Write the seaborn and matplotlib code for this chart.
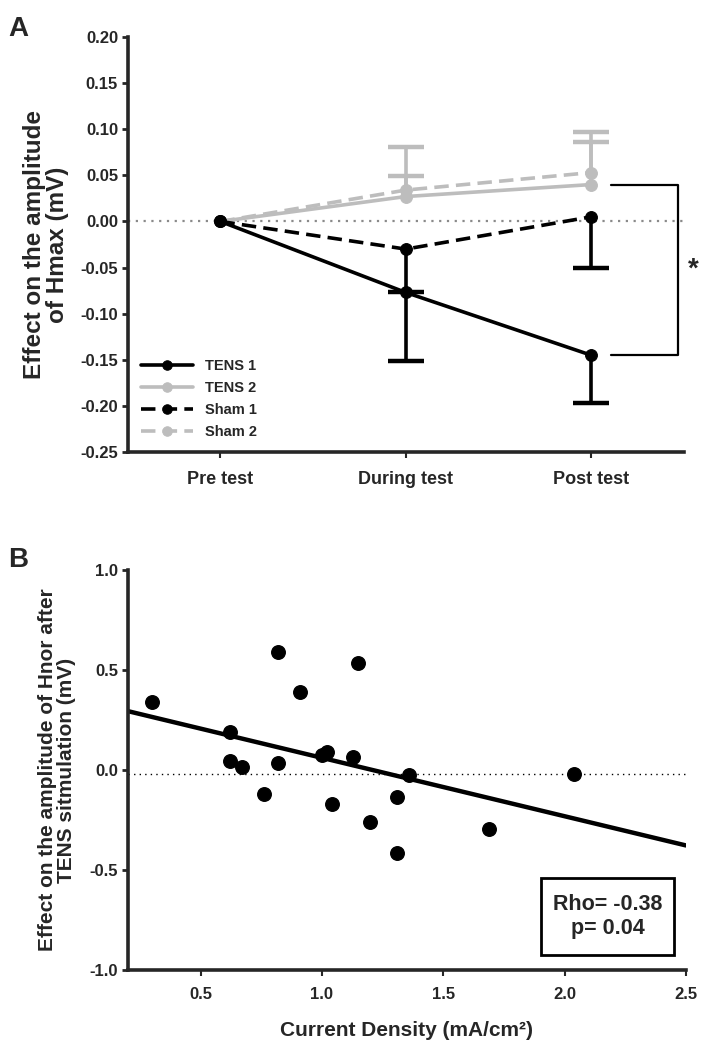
import numpy as np
import seaborn as sns
import matplotlib.pyplot as plt
from matplotlib.patches import Rectangle

# ---- panel A data ----
phases = ["Pre test", "During test", "Post test"]
tens1 = [0.0, -0.077, -0.145]
tens1_err_down = [0.0, 0.074, 0.052]
tens2 = [0.0, 0.027, 0.040]
tens2_err_up = [0.0, 0.022, 0.046]
sham1 = [0.0, -0.030, 0.005]
sham1_err_down = [0.0, 0.047, 0.055]
sham2 = [0.0, 0.034, 0.053]
sham2_err_up = [0.0, 0.047, 0.044]
a_ticks = [-0.25, -0.20, -0.15, -0.10, -0.05, 0.00, 0.05, 0.10, 0.15, 0.20]

# ---- panel B data ----
current_density = [0.30, 0.82, 1.15, 0.91, 0.62, 0.62, 0.67, 0.82, 0.76, 1.00,
                   1.02, 1.13, 1.36, 1.04, 1.31, 1.20, 1.31, 1.69, 2.04]
hnor_effect = [0.34, 0.59, 0.536, 0.389, 0.19, 0.045, 0.017, 0.033, -0.118, 0.076,
               0.089, 0.063, -0.023, -0.17, -0.134, -0.258, -0.416, -0.295, -0.02]
ref_level = -0.02
rho_text = "Rho= -0.38\np= 0.04"

sns.set_style("ticks")
plt.rcParams['font.family'] = ['Liberation Sans', 'DejaVu Sans']
plt.rcParams['font.weight'] = 'bold'
plt.rcParams['axes.unicode_minus'] = False

BLACK = "black"
GREY = "#bdbdbd"

fig = plt.figure(figsize=(7.02, 10.48), dpi=100)
axA = fig.add_axes([0.182, 0.5687, 0.792, 0.396])
axB = fig.add_axes([0.182, 0.0744, 0.795, 0.3817])

# ---------------- panel A ----------------
xpos = np.arange(len(phases))
axA.axhline(0, color="#8a8a8a", lw=1.6, ls=(0, (1, 2.5)), zorder=1)

series = [
    ("TENS 2", tens2, np.zeros(3), tens2_err_up, GREY, "-"),
    ("Sham 2", sham2, np.zeros(3), sham2_err_up, GREY, (0, (4, 2))),
    ("TENS 1", tens1, tens1_err_down, np.zeros(3), BLACK, "-"),
    ("Sham 1", sham1, sham1_err_down, np.zeros(3), BLACK, (0, (4, 2))),
]
for label, vals, lo, hi, col, ls in series:
    vals = np.asarray(vals)
    lo = np.asarray(lo)
    hi = np.asarray(hi)
    sns.lineplot(x=xpos, y=vals, ax=axA, color=col, lw=2.6, linestyle=ls,
                 marker="o", markersize=8.5, markeredgecolor=col, label=label, zorder=3)
    m = (lo + hi) > 0
    axA.errorbar(xpos[m], vals[m], yerr=[lo[m], hi[m]], fmt="none", ecolor=col,
                 elinewidth=2.6, capsize=0, zorder=2)
    ends = np.where(lo > 0, vals - lo, vals + hi)
    axA.plot(xpos[m], ends[m], ls="none", marker="_", ms=26, mew=3.2, color=col, zorder=2)

# significance bracket between TENS 2 and TENS 1 at post test
x0, x1 = 2.11, 2.47
axA.plot([x0, x1, x1, x0], [tens2[2], tens2[2], tens1[2], tens1[2]],
         color=BLACK, lw=1.6, clip_on=False)
axA.text(2.55, (tens2[2] + tens1[2]) / 2, "*", fontsize=20, fontweight="bold",
         ha="center", va="center", clip_on=False)

axA.set_xlim(-0.5, 2.5)
axA.set_ylim(-0.25, 0.20)
axA.set_yticks(a_ticks)
axA.set_yticklabels([f"{v:.2f}" for v in a_ticks])
axA.set_xticks(xpos)
axA.set_xticklabels(phases, fontsize=13, fontweight="bold")
axA.set_ylabel("Effect on the amplitude\nof Hmax (mV)", fontsize=17.5,
               fontweight="bold", labelpad=8, linespacing=1.0)
axA.set_xlabel("")

handles, labels = axA.get_legend_handles_labels()
order = [labels.index(n) for n in ["TENS 1", "TENS 2", "Sham 1", "Sham 2"]]
axA.legend([handles[i] for i in order], [labels[i] for i in order],
           loc="lower left", bbox_to_anchor=(0.0, 0.0), frameon=False,
           handlelength=3.6, labelspacing=0.55, markerscale=0.8,
           prop={"weight": "bold", "size": 10.5})

# ---------------- panel B ----------------
axB.set_xlim(0.2, 2.5)
axB.set_ylim(-1.0, 1.0)
axB.axhline(ref_level, color=BLACK, lw=1.0, ls=(0, (1, 3)), zorder=1)
sns.regplot(x=current_density, y=hnor_effect, ax=axB, ci=None, truncate=False,
            scatter_kws=dict(s=95, color=BLACK, edgecolor=BLACK, alpha=1, zorder=3),
            line_kws=dict(color=BLACK, lw=3.2, zorder=2))
axB.set_xticks([0.5, 1.0, 1.5, 2.0, 2.5])
axB.set_yticks([-1.0, -0.5, 0.0, 0.5, 1.0])
axB.set_xlabel("Current Density (mA/cm\u00b2)", fontsize=15, fontweight="bold", labelpad=14)
axB.set_ylabel("Effect on the amplitude of Hnor after\nTENS sitmulation (mV)",
               fontsize=15, fontweight="bold", labelpad=10, linespacing=1.0)
axB.add_patch(Rectangle((0.74, 0.038), 0.239, 0.192, transform=axB.transAxes,
                        fc="white", ec=BLACK, lw=2, zorder=4))
axB.text(0.86, 0.134, rho_text, transform=axB.transAxes, ha="center", va="center",
         fontsize=15.5, fontweight="bold", linespacing=1.15, zorder=5)

for ax in (axA, axB):
    sns.despine(ax=ax)
    ax.spines["left"].set_linewidth(2.6)
    ax.spines["bottom"].set_linewidth(2.6)
    ax.tick_params(axis="y", direction="out", length=4, width=2, labelsize=12, pad=3)
    ax.tick_params(axis="x", direction="out", length=4, width=1.5, labelsize=12, pad=8)
    for t in ax.get_yticklabels() + ax.get_xticklabels():
        t.set_fontweight("bold")
axA.tick_params(axis="x", labelsize=13, pad=10)

fig.text(0.012, 0.985, "A", fontsize=20, fontweight="bold", va="top")
fig.text(0.012, 0.478, "B", fontsize=20, fontweight="bold", va="top")

fig.savefig("out.png", dpi=100)
